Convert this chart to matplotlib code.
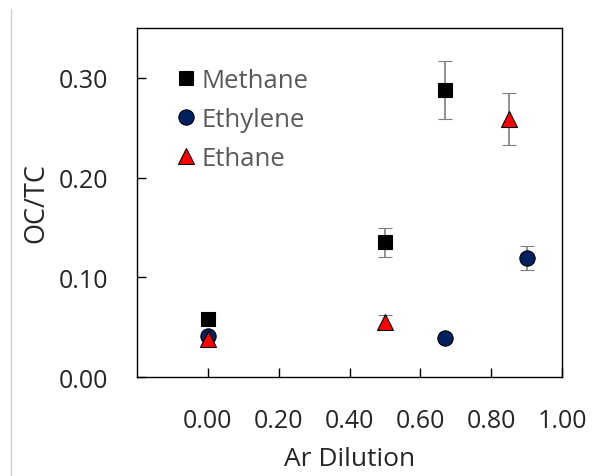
import matplotlib
matplotlib.use("Agg")
import matplotlib.pyplot as plt
from matplotlib.lines import Line2D

plt.rcParams['font.family'] = ['Open Sans', 'DejaVu Sans']

# OC/TC ratio vs argon dilution for each fuel
methane_x = [0.0, 0.50, 0.67]
methane_y = [0.058, 0.135, 0.288]
methane_err = [0.0, 0.0145, 0.029]

ethylene_x = [0.0, 0.67, 0.90]
ethylene_y = [0.041, 0.039, 0.119]
ethylene_err = [0.0, 0.0, 0.012]

ethane_x = [0.0, 0.50, 0.85]
ethane_y = [0.038, 0.055, 0.259]
ethane_err = [0.0, 0.007, 0.026]

x_ticks = [0.0, 0.2, 0.4, 0.6, 0.8, 1.0]
y_ticks = [0.0, 0.1, 0.2, 0.3]

fig = plt.figure(figsize=(6.02, 4.77), dpi=100)
ax = fig.add_axes([0.2276, 0.2075, 0.706, 0.7317])

err_style = dict(ecolor='#7f7f7f', elinewidth=1.2, capsize=5, capthick=1.2, linestyle='none')

series = [
    (methane_x, methane_y, methane_err, 's', 10.5, 'black', 'Methane'),
    (ethylene_x, ethylene_y, ethylene_err, 'o', 11, '#002060', 'Ethylene'),
    (ethane_x, ethane_y, ethane_err, '^', 11, 'red', 'Ethane'),
]
handles = []
for xs, ys, errs, mk, size, fill, name in series:
    ax.errorbar(xs, ys, yerr=errs, fmt=mk, ms=size, mfc=fill, mec='black',
                mew=0.8, **err_style)
    handles.append(Line2D([], [], linestyle='none', marker=mk, ms=size,
                          mfc=fill, mec='black', mew=0.8, label=name))

ax.set_xlim(-0.2, 1.0)
ax.set_ylim(0.0, 0.35)
ax.set_xticks(x_ticks)
ax.set_yticks(y_ticks)
ax.set_xticklabels([f"{v:.2f}" for v in x_ticks])
ax.set_yticklabels([f"{v:.2f}" for v in y_ticks])
ax.tick_params(axis='both', direction='in', length=6.5, width=1, labelsize=18,
               labelcolor='#262626')
ax.tick_params(axis='x', pad=22)
ax.tick_params(axis='y', pad=21)
for s in ax.spines.values():
    s.set_color('black')
    s.set_linewidth(1)

ax.set_xlabel('Ar Dilution', fontsize=19, color='#262626', labelpad=10)
ax.set_ylabel('OC/TC', fontsize=19.5, color='#262626', labelpad=6)

ax.legend(handles=handles, loc='upper left', bbox_to_anchor=(0.086, 0.885),
          frameon=False, fontsize=18.5, labelcolor='#595959',
          handletextpad=0.1, labelspacing=0.55, handlelength=1.0,
          borderpad=0, borderaxespad=0)

# thin border line on the left edge of the image
fig.add_artist(Line2D([11 / 602, 11 / 602], [0 / 477, 467 / 477],
                      color='#d0d0d0', linewidth=1))

fig.savefig('out.png', dpi=100)
